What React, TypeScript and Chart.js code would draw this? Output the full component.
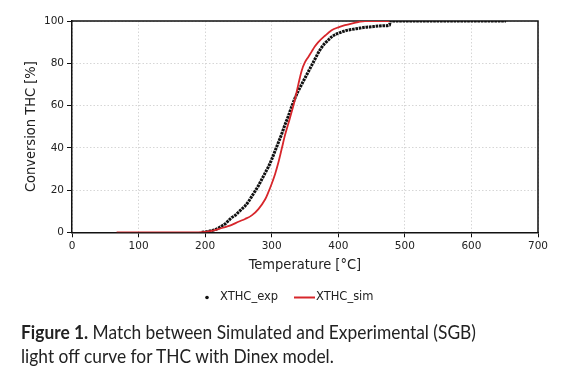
import React, { useEffect, useLayoutEffect, useRef } from "react";
import { Chart, registerables } from "chart.js";

Chart.register(...registerables);

// Experimental light-off data (temperature °C, THC conversion %)
const expTemps = [
  195, 200, 205, 210, 215, 220, 225, 230, 235, 240, 245, 250, 255, 260, 265, 270, 275, 280, 285, 290,
  295, 300, 305, 310, 315, 320, 325, 330, 335, 340, 345, 350, 355, 360, 365, 370, 375, 380, 385, 390,
  395, 400, 405, 410, 415, 420, 430, 440, 450, 460, 470, 477, 478, 490, 500, 510, 520, 530, 540, 550,
  560, 570, 580, 590, 600, 610, 620, 630, 640, 652,
];
const expConv = [
  0, 0.2, 0.4, 0.8, 1.3, 2, 3, 4, 5.5, 7, 8, 9.5, 11, 12.5, 14.5, 17, 19.5, 22, 25, 28,
  31, 34.5, 38.5, 42.5, 46.5, 51, 55, 59.5, 63.5, 67, 70, 73, 76, 79, 82, 85, 87.5, 89.5, 91, 92.5,
  93.5, 94.2, 94.8, 95.3, 95.7, 96, 96.5, 97, 97.3, 97.6, 97.8, 98, 100, 100, 100, 100, 100, 100, 100, 100,
  100, 100, 100, 100, 100, 100, 100, 100, 100, 100,
];

// Simulated light-off curve
const simTemps = [
  67, 100, 150, 190, 200, 210, 220, 230, 240, 250, 260, 270, 280, 290, 295, 300, 305, 310, 315, 320,
  325, 330, 335, 340, 345, 350, 355, 360, 365, 370, 380, 390, 400, 410, 420, 430, 440, 477,
];
const simConv = [
  0, 0, 0, 0, 0.2, 0.7, 1.5, 2.5, 3.5, 5, 6.3, 8, 11, 15.5, 19, 23, 27.5, 33, 39.5, 46,
  51.5, 57, 63, 70, 76.5, 80.5, 83, 85.5, 88, 90, 93, 95.6, 97, 98, 98.8, 99.5, 100, 100,
];

const seriesLabels = ["XTHC_exp", "XTHC_sim"];
const xTitle = "Temperature [°C]";
const yTitle = "Conversion THC [%]";
const xMin = 0, xMax = 700, xStep = 100;
const yMin = 0, yMax = 100, yStep = 20;

const TICK_FONT = "'DejaVu Sans', Verdana, sans-serif";
const TITLE_FONT = "'DejaVu Sans Condensed', 'DejaVu Sans', sans-serif";

const framePlugin = {
  id: "frameAndLegend",
  beforeDatasetsDraw(chart: any) {
    const { ctx, chartArea } = chart;
    ctx.save();
    ctx.strokeStyle = "#111";
    ctx.lineWidth = 1.5;
    ctx.beginPath();
    ctx.moveTo(chartArea.left, chartArea.top);
    ctx.lineTo(chartArea.right, chartArea.top);
    ctx.lineTo(chartArea.right, chartArea.bottom);
    ctx.stroke();
    ctx.restore();
  },
  afterDraw(chart: any) {
    const { ctx } = chart;
    const ds = chart.data.datasets;
    const y = 297.5;
    ctx.save();
    ctx.font = `11.5px ${TICK_FONT}`;
    ctx.textBaseline = "middle";
    ctx.beginPath();
    ctx.arc(207, y, 1.8, 0, Math.PI * 2);
    ctx.fillStyle = ds[0].borderColor;
    ctx.fill();
    ctx.fillStyle = "#222";
    ctx.fillText(ds[0].label, 220, y);
    ctx.strokeStyle = ds[1].borderColor;
    ctx.lineWidth = 2;
    ctx.beginPath();
    ctx.moveTo(294, y);
    ctx.lineTo(315, y);
    ctx.stroke();
    ctx.fillText(ds[1].label, 316, y);
    ctx.restore();
  },
};

export default function App() {
  const ref = useRef<HTMLCanvasElement>(null);
  const capRef = useRef<HTMLDivElement>(null);
  const line1Ref = useRef<HTMLSpanElement>(null);

  useLayoutEffect(() => {
    const cap = capRef.current;
    const l1 = line1Ref.current;
    if (!cap || !l1) return;
    const w = l1.getBoundingClientRect().width;
    if (w > 0) cap.style.transform = `scaleX(${455 / w})`;
  }, []);

  useEffect(() => {
    const canvas = ref.current;
    if (!canvas) return;
    const chart = new Chart(canvas, {
      type: "line",
      data: {
        datasets: [
          {
            label: seriesLabels[0],
            data: expTemps.map((t, i) => ({ x: t, y: expConv[i] })),
            borderColor: "#111111",
            backgroundColor: "#111111",
            borderWidth: 3,
            borderDash: [2.6, 0.8],
            pointRadius: 0,
            cubicInterpolationMode: "monotone",
            order: 1,
          },
          {
            label: seriesLabels[1],
            data: simTemps.map((t, i) => ({ x: t, y: simConv[i] })),
            borderColor: "#d7262b",
            backgroundColor: "#d7262b",
            borderWidth: 1.8,
            pointRadius: 0,
            cubicInterpolationMode: "monotone",
            order: 0,
          },
        ],
      },
      options: {
        responsive: false,
        animation: false,
        devicePixelRatio: 1,
        layout: { padding: { top: 21, right: 25, bottom: 102.7, left: 0 } },
        plugins: {
          legend: { display: false },
          tooltip: { enabled: false },
        },
        scales: {
          x: {
            type: "linear",
            min: xMin,
            max: xMax,
            afterFit: (s: any) => {
              s.height = 42;
            },
            ticks: {
              stepSize: xStep,
              color: "#222",
              padding: 3,
              font: { family: TICK_FONT, size: 10.5 },
            },
            grid: {
              color: "#d6d6d6",
              lineWidth: 1,
              tickColor: "#111",
              tickLength: 5,
            },
            border: { color: "#111", width: 1.5, dash: [1.5, 2] },
            title: {
              display: true,
              text: xTitle,
              color: "#222",
              padding: { top: 3, bottom: 0 },
              font: { family: TITLE_FONT, size: 14.5 },
            },
          },
          y: {
            type: "linear",
            min: yMin,
            max: yMax,
            afterFit: (s: any) => {
              s.width = 72;
            },
            ticks: {
              stepSize: yStep,
              color: "#222",
              padding: 3,
              font: { family: TICK_FONT, size: 10.5 },
            },
            grid: {
              color: "#d6d6d6",
              lineWidth: 1,
              tickColor: "#111",
              tickLength: 5,
            },
            border: { color: "#111", width: 1.5, dash: [1.5, 2] },
            title: {
              display: true,
              text: yTitle,
              color: "#222",
              padding: { top: 23, bottom: 0 },
              font: { family: TITLE_FONT, size: 14.5 },
            },
          },
        },
      },
      plugins: [framePlugin],
    });
    return () => chart.destroy();
  }, []);

  return (
    <div style={{ position: "absolute", top: 0, left: 0, width: 563, height: 377, background: "#fff" }}>
      <canvas ref={ref} width={563} height={377} style={{ width: 563, height: 377, display: "block" }} />
      <div
        ref={capRef}
        style={{
          position: "absolute",
          left: 21,
          top: 320,
          whiteSpace: "nowrap",
          transformOrigin: "0 0",
          fontFamily: "Lato, 'Open Sans', sans-serif",
          fontSize: 19,
          lineHeight: "24px",
          color: "#222",
        }}
      >
        <span ref={line1Ref}>
          <b>Figure 1.</b> Match between Simulated and Experimental (SGB)
        </span>
        <br />
        light off curve for THC with Dinex model.
      </div>
    </div>
  );
}
